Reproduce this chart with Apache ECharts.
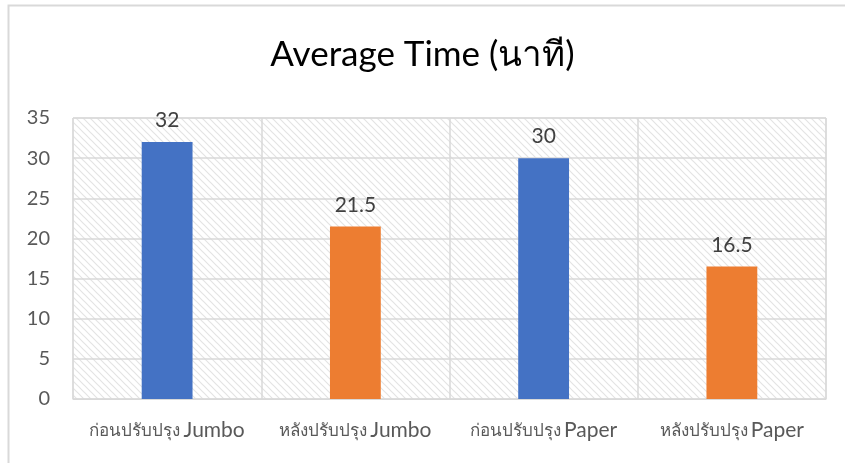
<!DOCTYPE html>
<html>
<head>
<meta charset="utf-8">
<style>
  html, body { margin: 0; padding: 0; background: #fff; }
  #chart { width: 845px; height: 463px; }
</style>
<script src="https://cdn.jsdelivr.net/npm/echarts@6/dist/echarts.min.js"></script>
</head>
<body>
<div id="chart"></div>
<script>
// Average time per phase, before and after improvement
const categories = ['ก่อนปรับปรุง Jumbo', 'หลังปรับปรุง Jumbo', 'ก่อนปรับปรุง Paper', 'หลังปรับปรุง Paper'];
const averageMinutes = [32, 21.5, 30, 16.5];
const barColors = ['#4472C4', '#ED7D31', '#4472C4', '#ED7D31'];
const yTicks = [0, 5, 10, 15, 20, 25, 30, 35];

// Light diagonal hatch for the plot background
function makeHatch() {
  const size = 7;
  const c = document.createElement('canvas');
  c.width = size; c.height = size;
  const ctx = c.getContext('2d');
  ctx.fillStyle = '#ffffff';
  ctx.fillRect(0, 0, size, size);
  ctx.strokeStyle = '#e4e4e4';
  ctx.lineWidth = 1.2;
  ctx.beginPath();
  ctx.moveTo(-2, -2); ctx.lineTo(size + 2, size + 2);
  ctx.moveTo(-2 - size, -2); ctx.lineTo(2, size + 2);
  ctx.moveTo(size - 2, -2); ctx.lineTo(2 * size + 2, size + 2);
  ctx.stroke();
  return c;
}

const font = 'Lato, "Open Sans", sans-serif';
const chart = echarts.init(document.getElementById('chart'), null, { renderer: 'canvas' });
chart.setOption({
  animation: false,
  backgroundColor: '#ffffff',
  title: {
    text: 'Average Time (นาที)',
    left: 'center',
    top: 32,
    textStyle: { fontFamily: font, fontSize: 35, fontWeight: 'normal', color: '#000000' }
  },
  graphic: [{
    type: 'rect',
    shape: { x: 8.5, y: 5.5, width: 900, height: 500 },
    style: { fill: 'none', stroke: '#d9d9d9', lineWidth: 2 },
    silent: true
  }],
  grid: {
    left: 73, right: 19, top: 118, bottom: 64,
    show: true,
    backgroundColor: { image: makeHatch(), repeat: 'repeat' },
    borderColor: '#d9d9d9', borderWidth: 1
  },
  xAxis: {
    type: 'category',
    data: categories,
    axisLine: { show: true, lineStyle: { color: '#d9d9d9', width: 1 } },
    axisTick: { show: false },
    splitLine: { show: true, interval: 0, lineStyle: { color: '#d9d9d9', width: 1.5 } },
    axisLabel: {
      interval: 0,
      margin: 21,
      color: '#595959',
      fontFamily: font,
      // Thai prefix a little smaller than the Latin product name
      formatter: function (v) {
        const i = v.lastIndexOf(' ');
        return '{th|' + v.slice(0, i) + '} {en|' + v.slice(i + 1) + '}';
      },
      rich: {
        th: { fontSize: 17, color: '#595959', fontFamily: font },
        en: { fontSize: 21, color: '#595959', fontFamily: font }
      }
    }
  },
  yAxis: {
    type: 'value',
    min: yTicks[0],
    max: yTicks[yTicks.length - 1],
    interval: 5,
    axisLine: { show: false },
    axisTick: { show: false },
    splitLine: { show: true, lineStyle: { color: '#d9d9d9', width: 1.5 } },
    axisLabel: { color: '#595959', fontSize: 20, margin: 23, fontFamily: font }
  },
  series: [{
    type: 'bar',
    data: averageMinutes.map((v, i) => ({ value: v, itemStyle: { color: barColors[i] } })),
    barWidth: '27%',
    label: {
      show: true,
      position: 'top',
      distance: 11,
      color: '#404040',
      fontSize: 21,
      fontFamily: font
    }
  }]
});
</script>
</body>
</html>
